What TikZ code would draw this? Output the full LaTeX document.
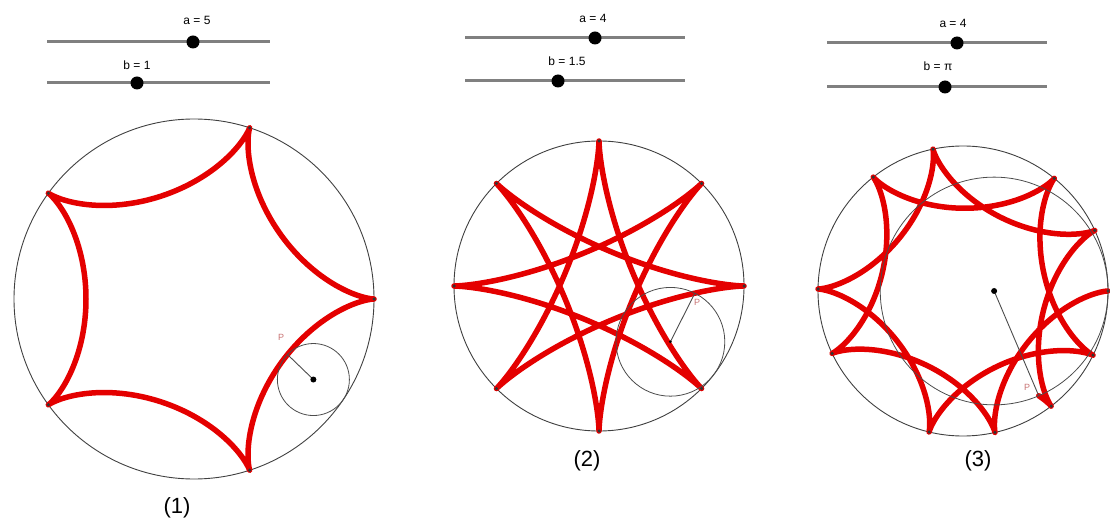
\documentclass[tikz,border=0pt]{standalone}
\usepackage{fontspec}
\setmainfont{Liberation Sans}
\usetikzlibrary{positioning}
\definecolor{curvered}{RGB}{228,0,0}
\definecolor{pcol}{RGB}{200,115,115}

\begin{document}
\begin{tikzpicture}[
  x=1pt, y=-1pt,
  rim/.style={draw=black!75, line width=0.9pt},
  roller/.style={draw=black!70, line width=0.8pt},
  trace/.style={draw=curvered, line width=5.5pt, line join=round, line cap=round},
  arm/.style={draw=black!70, line width=0.9pt},
  hub/.style={circle, fill=black, inner sep=0pt, minimum size=6pt},
  cusp/.style={circle, fill=black!80, inner sep=0pt, minimum size=3.5pt},
  track/.style={draw=black!50, line width=3pt},
  knob/.style={circle, fill=black, inner sep=0pt, minimum size=13pt},
  val/.style={font=\fontsize{12}{14}\selectfont, inner sep=1pt},
  plabel/.style={text=pcol, font=\fontsize{9}{10}\selectfont, inner sep=1pt},
  caption/.style={font=\fontsize{22}{26}\selectfont, inner sep=0pt},
]
  \useasboundingbox (0,0) rectangle (1110,526);

  % sliders
  \coordinate (ta1w) at (47,42);  \coordinate (ta1e) at (270,42);
  \coordinate (tb1w) at (47,83);  \coordinate (tb1e) at (270,83);
  \coordinate (ta2w) at (465,38); \coordinate (ta2e) at (685,38);
  \coordinate (tb2w) at (465,81); \coordinate (tb2e) at (685,81);
  \coordinate (ta3w) at (827,43); \coordinate (ta3e) at (1047,43);
  \coordinate (tb3w) at (827,87); \coordinate (tb3e) at (1047,87);
  \draw[track] (ta1w) -- (ta1e);
  \draw[track] (tb1w) -- (tb1e);
  \draw[track] (ta2w) -- (ta2e);
  \draw[track] (tb2w) -- (tb2e);
  \draw[track] (ta3w) -- (ta3e);
  \draw[track] (tb3w) -- (tb3e);
  \node[knob] (ka1) at (193,42) {};
  \node[knob] (kb1) at (137,83) {};
  \node[knob] (ka2) at (595,38) {};
  \node[knob] (kb2) at (558,81) {};
  \node[knob] (ka3) at (957,43) {};
  \node[knob] (kb3) at (945,87) {};
  \node[val] (la1) at (197,20) {a = 5};
  \node[val] (lb1) at (137,65) {b = 1};
  \node[val] (la2) at (593,18) {a = 4};
  \node[val] (lb2) at (567,61) {b = 1.5};
  \node[val] (la3) at (953,23) {a = 4};
  \node[val] (lb3) at (938,66) {b = π};

  % (1) a=5, b=1
  \begin{scope}[shift={(194,299)}, x=36pt, y=36pt]
    \draw[rim] (0,0) circle[radius=5];
    \draw[trace] plot[domain=0:360, samples=361] ({4*cos(\x)+cos(4*\x)}, {4*sin(\x)-sin(4*\x)});
    \foreach \k in {0,...,4}
      \node[cusp] (k1-\k) at ({5*cos(72*\k)}, {5*sin(72*\k)}) {};
    \coordinate (c1) at ({4*cos(-34)}, {4*sin(-34)});
    \coordinate (p1) at ({4*cos(-34)+cos(136)}, {4*sin(-34)+sin(136)});
    \draw[roller] (c1) circle[radius=1];
    \draw[arm] (c1) -- (p1);
    \node[hub] (h1) at (c1) {};
  \end{scope}

  % (2) a=4, b=1.5
  \begin{scope}[shift={(599,286)}, x=36.25pt, y=36.25pt]
    \draw[rim] (0,0) circle[radius=4];
    \draw[trace] plot[domain=0:1080, samples=721] ({2.5*cos(\x)+1.5*cos(5/3*\x)}, {2.5*sin(\x)-1.5*sin(5/3*\x)});
    \foreach \k in {0,...,7}
      \node[cusp] (k2-\k) at ({4*cos(45*\k)}, {4*sin(45*\k)}) {};
    \coordinate (c2) at ({2.5*cos(-38)}, {2.5*sin(-38)});
    \coordinate (p2) at ({2.5*cos(-38)+1.5*cos(63.33)}, {2.5*sin(-38)+1.5*sin(63.33)});
    \draw[roller] (c2) circle[radius=1.5];
    \draw[arm] (c2) -- (p2);
    \node[hub, minimum size=3pt] (h2) at (c2) {};
  \end{scope}

  % (3) a=4, b=pi
  \begin{scope}[shift={(963,291)}, x=36.25pt, y=36.25pt]
    \draw[rim] (0,0) circle[radius=4];
    \draw[trace] plot[domain=0:2880, samples=1441] ({0.858407*cos(\x)+3.141593*cos(0.27324*\x)}, {0.858407*sin(\x)-3.141593*sin(0.27324*\x)});
    \foreach \k in {0,...,10}
      \node[cusp] (k3-\k) at ({4*cos(282.7433*\k)}, {4*sin(282.7433*\k)}) {};
    \coordinate (c3) at (0.858407,0);
    \coordinate (p3) at ({0.858407+3.141593*cos(-66.93)}, {3.141593*sin(-66.93)});
    \draw[roller] (c3) circle[radius=3.141593];
    \draw[arm] (c3) -- (p3);
    \node[hub] (h3) at (c3) {};
  \end{scope}

  \node[plabel] (lp1) at (281,337) {P};
  \node[plabel] (lp2) at (697,302) {P};
  \node[plabel] (lp3) at (1027,387) {P};

  \node[caption] (cap1) at (177,508) {(1)};
  \node[caption] (cap2) at (587,461) {(2)};
  \node[caption] (cap3) at (978,461) {(3)};
\end{tikzpicture}
\end{document}
